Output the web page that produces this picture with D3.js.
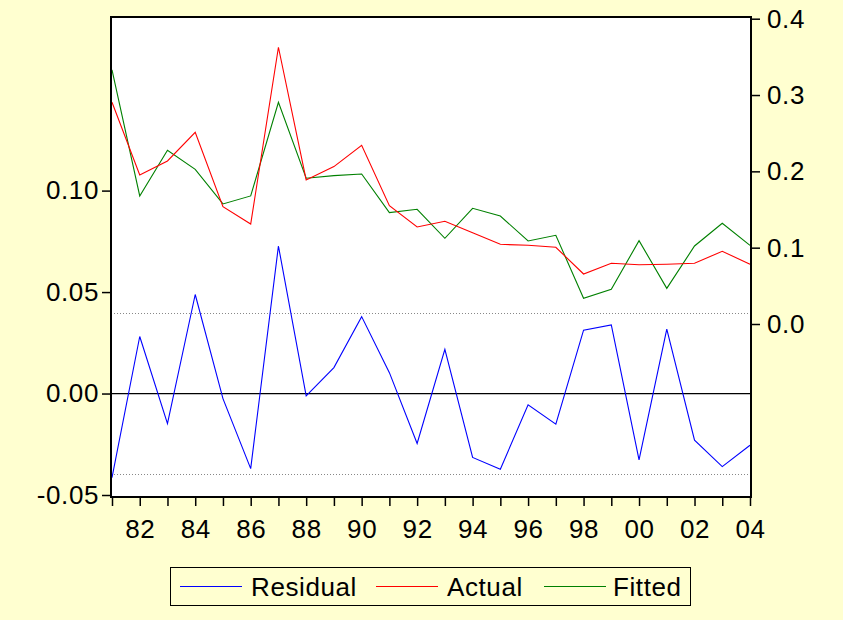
<!DOCTYPE html>
<html><head><meta charset="utf-8">
<script src="https://cdn.jsdelivr.net/npm/d3@7"></script>
<style>
html,body{margin:0;padding:0;background:#FFFFD0;}
svg{display:block;}
text{font-family:"Liberation Sans",Arial,sans-serif;fill:#000;}
</style></head>
<body>
<svg id="chart" width="843" height="620"></svg>
<script>
const years = [1981,1982,1983,1984,1985,1986,1987,1988,1989,1990,1991,1992,1993,1994,1995,1996,1997,1998,1999,2000,2001,2002,2003,2004];
const actual = [0.2905,0.1953,0.2136,0.2512,0.1538,0.1310,0.3626,0.1887,0.2062,0.2342,0.1550,0.1271,0.1346,0.1197,0.1044,0.1031,0.1005,0.0655,0.0795,0.0777,0.0782,0.0795,0.0953,0.0782];
const fitted = [0.3329,0.1678,0.2276,0.2027,0.1573,0.1678,0.2905,0.1910,0.1944,0.1966,0.1459,0.1503,0.1123,0.1516,0.1415,0.1088,0.1162,0.0337,0.0454,0.1092,0.0467,0.1022,0.1320,0.1031];
const residual = [-0.0414,0.0281,-0.0148,0.0488,-0.0025,-0.0370,0.0727,-0.0012,0.0128,0.0379,0.0103,-0.0246,0.0218,-0.0315,-0.0373,-0.0056,-0.0151,0.0312,0.0338,-0.0327,0.0317,-0.0230,-0.0360,-0.0255];
const leftTicks = [-0.05,0.00,0.05,0.10];
const rightTicks = [0.0,0.1,0.2,0.3,0.4];
const xLabelYears = [1982,1984,1986,1988,1990,1992,1994,1996,1998,2000,2002,2004];
const seBand = 0.0398;
const legendItems = ["Residual","Actual","Fitted"];
const colors = {Residual:"#0000FF", Actual:"#FF0000", Fitted:"#008000"};

const svg = d3.select("#chart");
const L=111, R=751, T=17, B=497;
const FS = "26px", LS = "0.6px";

const x = d3.scaleLinear().domain([1981,2004]).range([112,750]);
const yL = d3.scaleLinear().domain([-0.05,0.10]).range([495,190.6]);
const yR = d3.scaleLinear().domain([0,0.4]).range([324,18.7]);

svg.append("rect").attr("width",843).attr("height",620).attr("fill","#FFFFD0");
svg.append("rect").attr("x",L).attr("y",T).attr("width",R-L).attr("height",B-T).attr("fill","#fff");

// band lines
[seBand,-seBand].forEach(v=>{
  svg.append("line").attr("x1",L).attr("x2",R).attr("y1",Math.round(yL(v))+0.5).attr("y2",Math.round(yL(v))+0.5)
    .attr("stroke","#888").attr("stroke-width",1).attr("stroke-dasharray","1,2");
});
svg.append("line").attr("x1",L).attr("x2",R).attr("y1",yL(0)).attr("y2",yL(0)).attr("stroke","#000").attr("stroke-width",1.3);

const lineL = d3.line().x((d,i)=>x(years[i])).y(d=>yL(d));
const lineR = d3.line().x((d,i)=>x(years[i])).y(d=>yR(d));
svg.append("path").attr("d",lineR(fitted)).attr("fill","none").attr("stroke",colors.Fitted).attr("stroke-width",1.1);
svg.append("path").attr("d",lineR(actual)).attr("fill","none").attr("stroke",colors.Actual).attr("stroke-width",1.1);
svg.append("path").attr("d",lineL(residual)).attr("fill","none").attr("stroke",colors.Residual).attr("stroke-width",1.1);

// frame
svg.append("rect").attr("x",L).attr("y",T).attr("width",R-L).attr("height",B-T).attr("fill","none").attr("stroke","#000").attr("stroke-width",2);

// left axis
const gL = svg.append("g").attr("transform",`translate(${L},0)`);
gL.call(d3.axisLeft(yL).tickValues(leftTicks).tickSize(9).tickPadding(3).tickFormat(d3.format(".2f")));
// right axis
const gR = svg.append("g").attr("transform",`translate(${R},0)`);
gR.call(d3.axisRight(yR).tickValues(rightTicks).tickSize(9).tickPadding(7).tickFormat(d3.format(".1f")));
// bottom axis
const gB = svg.append("g").attr("transform",`translate(0,${B})`);
gB.call(d3.axisBottom(x).tickValues(years).tickSize(9).tickFormat(d=>xLabelYears.includes(d)?String(d%100).padStart(2,"0"):""));
gB.selectAll("text").attr("dy","1.1em");
[gL,gR,gB].forEach(g=>{
  g.select(".domain").remove();
  g.selectAll("line").attr("stroke","#000").attr("stroke-width",1.5);
  g.selectAll("text").attr("font-size",FS).attr("letter-spacing",LS).attr("font-family","Liberation Sans, Arial, sans-serif").attr("fill","#000");
});
gL.selectAll("text").text(d=>d3.format(".2f")(d).replace("−","-"));

// legend
const lg = svg.append("g");
lg.append("rect").attr("x",170.5).attr("y",567.5).attr("width",520).attr("height",38).attr("fill","#FFFFD0").attr("stroke","#000").attr("stroke-width",1);
const lx = [[180,242,251],[376,438,447],[544,606,613]];
legendItems.forEach((n,i)=>{
  lg.append("line").attr("x1",lx[i][0]).attr("x2",lx[i][1]).attr("y1",586.5).attr("y2",586.5).attr("stroke",colors[n]).attr("stroke-width",1);
  lg.append("text").attr("x",lx[i][2]).attr("y",596).attr("font-size",FS).attr("letter-spacing",LS).text(n);
});
</script>
</body></html>
